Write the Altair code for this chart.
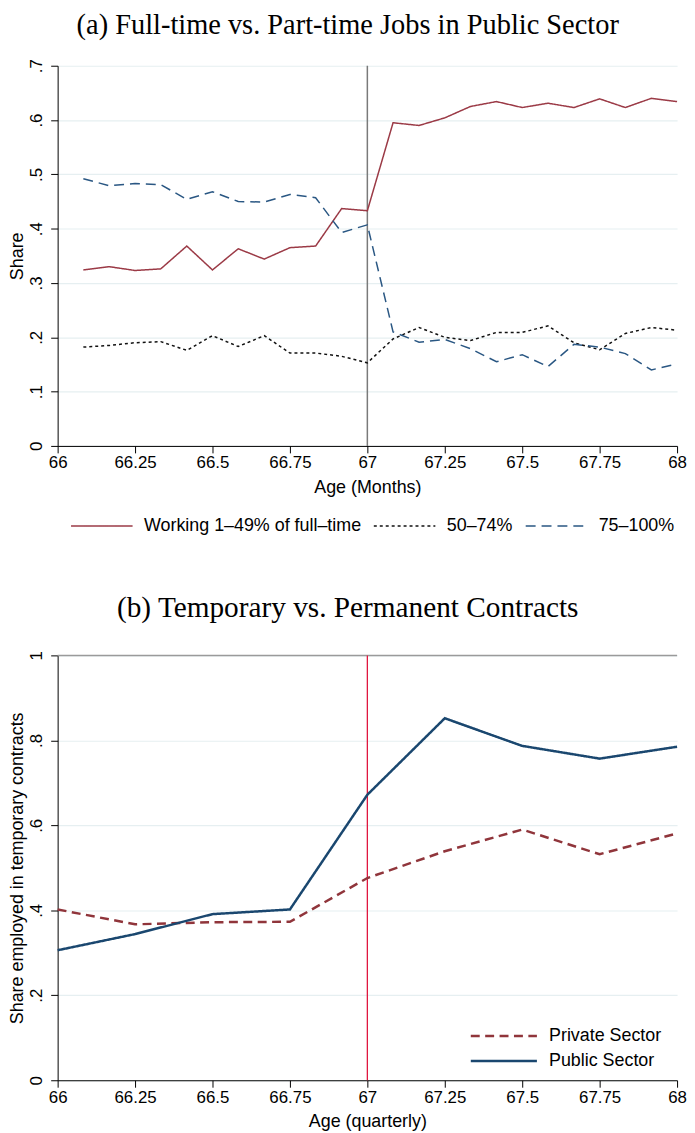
import altair as alt
import pandas as pd

# ---------------- Panel (a) data ----------------
age_months = [66.083, 66.167, 66.25, 66.333, 66.417, 66.5, 66.583, 66.667, 66.75, 66.833, 66.917, 67.0,
              67.083, 67.167, 67.25, 67.333, 67.417, 67.5, 67.583, 67.667, 67.75, 67.833, 67.917, 68.0]
share_1_49 = [0.324, 0.330, 0.323, 0.326, 0.368, 0.324, 0.363, 0.344, 0.365, 0.368, 0.437, 0.433,
              0.595, 0.590, 0.604, 0.625, 0.634, 0.623, 0.631, 0.623, 0.639, 0.623, 0.640, 0.634]
share_50_74 = [0.182, 0.185, 0.190, 0.192, 0.176, 0.203, 0.183, 0.203, 0.171, 0.171, 0.165, 0.153,
               0.197, 0.218, 0.200, 0.194, 0.209, 0.209, 0.221, 0.190, 0.177, 0.207, 0.218, 0.213]
share_75_100 = [0.492, 0.479, 0.483, 0.481, 0.454, 0.468, 0.450, 0.449, 0.463, 0.457, 0.393, 0.407,
                0.210, 0.191, 0.196, 0.179, 0.155, 0.168, 0.146, 0.187, 0.182, 0.170, 0.140, 0.151]
series_a = ["Working 1–49% of full–time", "50–74%", "75–100%"]

# ---------------- Panel (b) data ----------------
age_quarters = [66.0, 66.25, 66.5, 66.75, 67.0, 67.25, 67.5, 67.75, 68.0]
private_sector = [0.402, 0.367, 0.372, 0.373, 0.476, 0.539, 0.590, 0.532, 0.581]
public_sector = [0.306, 0.344, 0.391, 0.402, 0.672, 0.852, 0.787, 0.757, 0.785]
series_b = ["Private Sector", "Public Sector"]

x_ticks = [66, 66.25, 66.5, 66.75, 67, 67.25, 67.5, 67.75, 68]
y_ticks_a = [0, 0.1, 0.2, 0.3, 0.4, 0.5, 0.6, 0.7]
y_ticks_b = [0, 0.2, 0.4, 0.6, 0.8, 1]
cutoff = [67]

df_a = pd.concat([
    pd.DataFrame({"age": age_months, "share": share_1_49, "series": series_a[0]}),
    pd.DataFrame({"age": age_months, "share": share_50_74, "series": series_a[1]}),
    pd.DataFrame({"age": age_months, "share": share_75_100, "series": series_a[2]}),
])
df_b = pd.concat([
    pd.DataFrame({"age": age_quarters, "share": private_sector, "series": series_b[0]}),
    pd.DataFrame({"age": age_quarters, "share": public_sector, "series": series_b[1]}),
])
df_cut = pd.DataFrame({"age": cutoff})
df_top = pd.DataFrame({"share": [1.0]})

SANS = "Liberation Sans"
SERIF = "Liberation Serif"
y_label_expr = "replace(format(datum.value, '.1~f'), '0.', '.')"
LINE_PATH = "M-3,0H3"


def x_axis(title):
    return alt.Axis(values=x_ticks, format=".4~g", title=title, grid=False,
                    labelFont=SANS, labelFontSize=17, labelColor="black", labelPadding=2,
                    titleFont=SANS, titleFontSize=18, titleFontWeight="normal", titleColor="black",
                    titlePadding=8, domainColor="black", tickColor="black", tickSize=7,
                    labelFlush=False, labelOverlap=False)


def y_axis(title, values, title_pad):
    return alt.Axis(values=values, labelExpr=y_label_expr, title=title, grid=True,
                    gridColor="#e6eff1", gridWidth=1.2,
                    labelFont=SANS, labelFontSize=17, labelColor="black", labelAngle=270,
                    labelAlign="center", labelBaseline="bottom", labelPadding=5,
                    titleFont=SANS, titleFontSize=18, titleFontWeight="normal", titleColor="black",
                    titlePadding=title_pad, domainColor="black", tickColor="black", tickSize=7,
                    labelFlush=False, labelOverlap=False)


# ---------------- Panel (a) ----------------
legend_a = alt.Legend(title=None, orient="none", direction="horizontal", legendX=33, legendY=452,
                      symbolType=LINE_PATH, symbolSize=427, symbolStrokeWidth=1.5,
                      labelFont=SANS, labelFontSize=18, labelColor="black", labelOffset=31,
                      columnPadding=9, padding=0, labelLimit=400)

cut_a = alt.Chart(df_cut).mark_rule(color="#7a7a7a", strokeWidth=1.5).encode(x="age:Q")
lines_a = alt.Chart(df_a).mark_line(strokeWidth=1.5).encode(
    x=alt.X("age:Q", scale=alt.Scale(domain=[66, 68], nice=False, zero=False), axis=x_axis("Age (Months)")),
    y=alt.Y("share:Q", scale=alt.Scale(domain=[0, 0.7], nice=False), axis=y_axis("Share", y_ticks_a, 1)),
    color=alt.Color("series:N", scale=alt.Scale(domain=series_a, range=["#9b3a46", "#111111", "#2a5783"]),
                    legend=legend_a),
    strokeDash=alt.StrokeDash("series:N", scale=alt.Scale(domain=series_a, range=[[1, 0], [3, 3], [10, 6]]),
                              legend=legend_a),
)
panel_a = alt.layer(cut_a, lines_a).properties(
    width=624, height=383,
    title=alt.TitleParams("(a) Full-time vs. Part-time Jobs in Public Sector", font=SERIF, fontSize=28.6,
                          fontWeight="normal", color="black", anchor="middle", frame="bounds", offset=19.5),
)

# ---------------- Panel (b) ----------------
legend_b = alt.Legend(title=None, orient="none", direction="vertical", legendX=437, legendY=371,
                      symbolType=LINE_PATH, symbolSize=493, symbolStrokeWidth=2.5,
                      labelFont=SANS, labelFontSize=18, labelColor="black", labelOffset=33,
                      rowPadding=3, padding=0, labelLimit=400)

top_b = alt.Chart(df_top).mark_rule(color="#9a9a9a", strokeWidth=1.5).encode(y="share:Q")
cut_b = alt.Chart(df_cut).mark_rule(color="#e0173f", strokeWidth=1.3).encode(x="age:Q")
lines_b = alt.Chart(df_b).mark_line(strokeWidth=2.5).encode(
    x=alt.X("age:Q", scale=alt.Scale(domain=[66, 68], nice=False, zero=False), axis=x_axis("Age (quarterly)")),
    y=alt.Y("share:Q", scale=alt.Scale(domain=[0, 1], nice=False),
            axis=y_axis("Share employed in temporary contracts", y_ticks_b, 1)),
    color=alt.Color("series:N", scale=alt.Scale(domain=series_b, range=["#90353b", "#1a476f"]),
                    legend=legend_b),
    strokeDash=alt.StrokeDash("series:N", scale=alt.Scale(domain=series_b, range=[[9, 5.5], [1, 0]]),
                              legend=legend_b),
)
panel_b = alt.layer(top_b, cut_b, lines_b).properties(
    width=624, height=428,
    title=alt.TitleParams("(b) Temporary vs. Permanent Contracts", font=SERIF, fontSize=29.5,
                          fontWeight="normal", color="black", anchor="middle", frame="bounds", offset=27),
).resolve_scale(color="independent", strokeDash="independent")

chart = alt.vconcat(panel_a, panel_b, spacing=58).properties(
    padding={"top": -2, "left": 0, "right": 0, "bottom": 0}, background="white"
).resolve_scale(color="independent", strokeDash="independent", x="independent", y="independent"
).configure_view(stroke=None)

chart.save("out.html", embed_options={"renderer": "svg", "actions": False})
